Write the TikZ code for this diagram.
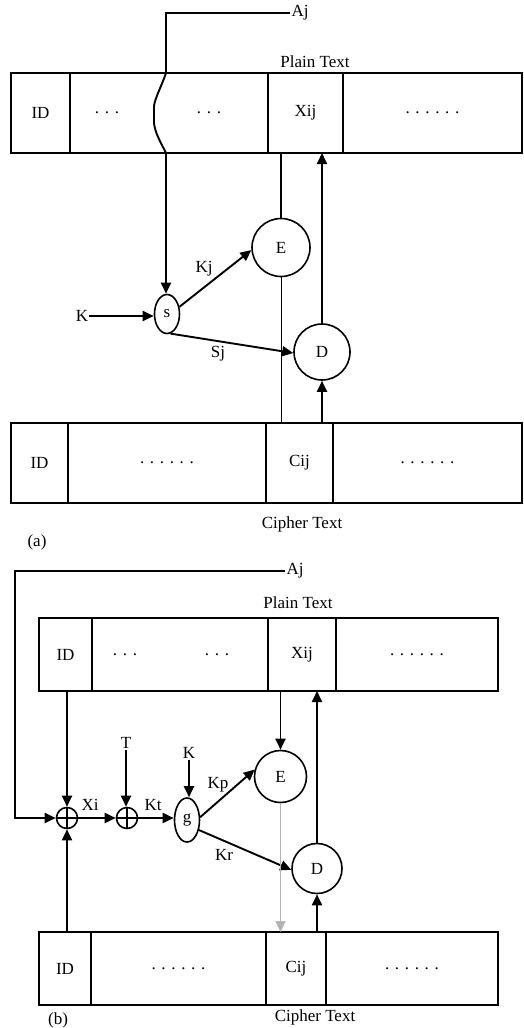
\documentclass[tikz,border=0pt]{standalone}
\usepackage{fontspec}
\setmainfont{Liberation Serif}
\usetikzlibrary{arrows.meta,shapes.geometric}
\begin{document}
\begin{tikzpicture}[x=1pt,y=-1pt,
  every node/.style={font=\fontsize{17}{19}\selectfont},
  cell/.style={draw,line width=1.9pt,inner sep=0pt,outer sep=0pt},
  ln/.style={line width=1.9pt},
  thinln/.style={line width=0.9pt},
  arr/.style={line width=1.9pt,-{Triangle[length=11pt,width=10pt]}},
  circ/.style={draw,circle,line width=1.6pt,inner sep=0pt},
  oval/.style={draw,ellipse,line width=1.6pt,inner sep=0pt},
  xorc/.style={draw,circle,line width=1.6pt,inner sep=0pt,minimum size=21pt},
  lbl/.style={inner sep=1pt}]
\useasboundingbox (0,0) rectangle (524,1028);
% ---------- (a) ----------
\node[lbl] (pta) at (315,62) {Plain Text};
\node[cell,minimum width=59pt,minimum height=80pt] (pa1) at (40.5,113) {ID};
\node[cell,minimum width=198pt,minimum height=80pt] (pa2) at (169,113) {};
\node[cell,minimum width=75pt,minimum height=80pt] (pa3) at (305.5,113) {Xij};
\node[cell,minimum width=179pt,minimum height=80pt] (pa4) at (432.5,113) {. . . . . .};
\node[lbl] (pad1) at (107,113) {. . .};
\node[lbl] (pad2) at (209,113) {. . .};
\coordinate (wtop) at (166,73);
\coordinate (wbot) at (166,153);
\draw[ln,fill=white] (wtop) .. controls (162,85) and (155,98) .. (154,106) -- (154,123) .. controls (155,133) and (161,143) .. (wbot);
\node[lbl] (aja) at (300,13) {Aj};
\draw[ln] (aja.west) -| (wtop);

\node[oval,minimum width=25pt,minimum height=39pt] (s) at (167,314) {s};
\node[circ,minimum size=58pt] (E) at (281,247.5) {E};
\node[circ,minimum size=56pt] (D) at (322,352) {D};
\node[lbl] (Ka) at (82,316) {K};
\draw[arr] (wbot) -- (wbot |- s.north);
\draw[arr] (Ka.east) -- (Ka.east -| s.west);
\draw[arr] (s.30) -- (E.185);
\draw[arr] (s.-80) -- (D.182);
\node[lbl] (kj) at (204,269) {Kj};
\node[lbl] (sj) at (218,354) {Sj};

\node[cell,minimum width=57pt,minimum height=80pt] (ca1) at (39.5,463) {ID};
\node[cell,minimum width=198pt,minimum height=80pt] (ca2) at (167,463) {. . . . . .};
\node[cell,minimum width=67pt,minimum height=80pt] (ca3) at (299.5,463) {Cij};
\node[cell,minimum width=189pt,minimum height=80pt] (ca4) at (427.5,463) {. . . . . .};
\node[lbl] (cta) at (302,524) {Cipher Text};
\node[lbl] (la) at (37,542) {(a)};

\draw[ln] (E.north |- pa3.south) -- (E.north);
\draw[thinln] (E.south) -- (E.south |- ca3.north);
\draw[arr] (D.north) -- (D.north |- pa3.south);
\draw[arr] (D.south |- ca3.north) -- (D.south);

% ---------- (b) ----------
\node[lbl] (ajb) at (295,571) {Aj};
\node[lbl] (ptb) at (298,603) {Plain Text};
\node[cell,minimum width=53pt,minimum height=73pt] (pb1) at (65.5,654.5) {ID};
\node[cell,minimum width=176pt,minimum height=73pt] (pb2) at (180,654.5) {};
\node[cell,minimum width=68pt,minimum height=73pt] (pb3) at (302,654.5) {Xij};
\node[cell,minimum width=162pt,minimum height=73pt] (pb4) at (417,654.5) {. . . . . .};
\node[lbl] (pbd1) at (125,654.5) {. . .};
\node[lbl] (pbd2) at (217,654.5) {. . .};

\node[xorc] (x1) at (67,818) {};
\draw[line width=1.6pt] (x1.north) -- (x1.south) (x1.west) -- (x1.east);
\node[xorc] (x2) at (127,818) {};
\draw[line width=1.6pt] (x2.north) -- (x2.south) (x2.west) -- (x2.east);
\node[oval,minimum width=25pt,minimum height=44pt] (g) at (187,820) {g};
\node[circ,minimum size=52pt] (E2) at (280.5,776.5) {E};
\node[circ,minimum size=50pt] (D2) at (317,868.5) {D};
\node[lbl] (T) at (126,743) {T};
\node[lbl] (Kb) at (189,753) {K};

\coordinate (bl) at (15,571);
\draw[arr] (ajb.west) -- (bl) |- (x1.west);
\draw[arr] (x1.north |- pb1.south) -- (x1.north);
\draw[arr] (x1.south |- 932,932) -- (x1.south);
\draw[arr] (x1.east) -- (x2.west);
\node[lbl] (xi) at (90,805) {Xi};
\draw[arr] (T.south) -- (T.south |- x2.north);
\draw[arr] (x2.east) -- (x2.east -| g.west);
\node[lbl] (kt) at (153,805) {Kt};
\draw[arr] (Kb.south) -- (Kb.south |- g.north);
\draw[arr] (g.12) -- (E2.165);
\node[lbl] (kp) at (218,785) {Kp};
\draw[arr] (g.-40) -- (D2.183);
\node[lbl] (kr) at (224,855) {Kr};

\node[cell,minimum width=52pt,minimum height=73pt] (cb1) at (65,968.5) {ID};
\node[cell,minimum width=175pt,minimum height=73pt] (cb2) at (178.5,968.5) {. . . . . .};
\node[cell,minimum width=60pt,minimum height=73pt] (cb3) at (296,968.5) {Cij};
\node[cell,minimum width=172pt,minimum height=73pt] (cb4) at (412,968.5) {. . . . . .};
\node[lbl] (ctb) at (315,1017) {Cipher Text};
\node[lbl] (lb) at (58,1020) {(b)};

\draw[arr] (E2.north |- pb3.south) -- (E2.north);
\draw[arr] (D2.north) -- (D2.north |- pb3.south);
\draw[line width=0.7pt,gray!60,-{Triangle[length=11pt,width=10pt]}] (E2.south) -- (E2.south |- cb3.north);
\draw[arr] (D2.south |- cb3.north) -- (D2.south);
\end{tikzpicture}
\end{document}
